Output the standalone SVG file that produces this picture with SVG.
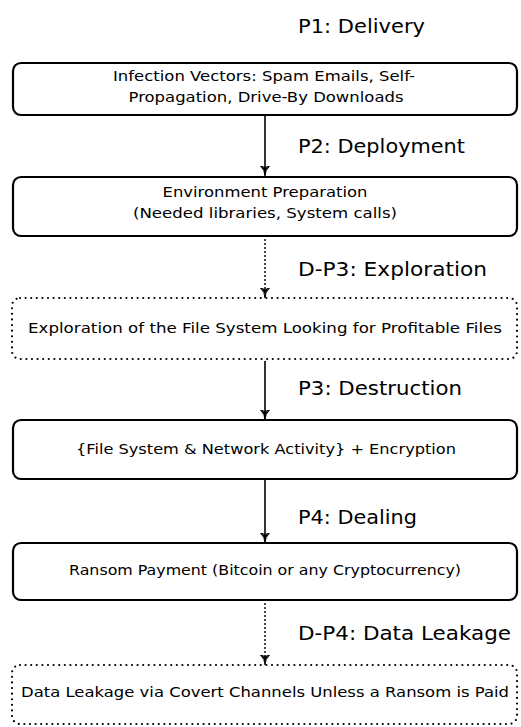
<svg xmlns="http://www.w3.org/2000/svg" width="521" height="727" viewBox="0 0 521 727">
<defs>
<style>
.box{fill:#fff;stroke:#000;stroke-width:2.2}
.dbox{fill:#fff;stroke:#000;stroke-width:2.2;stroke-dasharray:0 5.6;stroke-linecap:round}
.t{font-family:"DejaVu Sans","Liberation Sans",sans-serif;font-size:13.5px;fill:#000;text-anchor:middle}
.lab{font-family:"DejaVu Sans","Liberation Sans",sans-serif;font-size:19px;fill:#000}
.c{stroke:#000;stroke-width:1.6;fill:none}
.cd{stroke:#000;stroke-width:1.9;fill:none;stroke-dasharray:0 4;stroke-linecap:round}
</style>
<marker id="ah" viewBox="0 0 10 10" refX="9" refY="5" markerWidth="10" markerHeight="10" markerUnits="userSpaceOnUse" orient="auto">
<path d="M0,0.5 Q4,5 10,5 Q4,5 0,9.5 Q3,5 0,0.5 Z" fill="#000" stroke="#000" stroke-width="1"/>
</marker>
</defs>
<rect width="521" height="727" fill="#fff"/>
<g id="connectors">
<line class="c" x1="265" y1="116" x2="265" y2="175" marker-end="url(#ah)"/>
<line class="cd" x1="265" y1="240" x2="265" y2="297" marker-end="url(#ah)"/>
<line class="c" x1="265" y1="361" x2="265" y2="419" marker-end="url(#ah)"/>
<line class="c" x1="265" y1="480" x2="265" y2="542" marker-end="url(#ah)"/>
<line class="cd" x1="265" y1="604" x2="265" y2="664" marker-end="url(#ah)"/>
</g>
<g id="labels">
<text class="lab" x="298" y="33" textLength="127" lengthAdjust="spacingAndGlyphs">P1: Delivery</text>
<text class="lab" x="298" y="153" textLength="167" lengthAdjust="spacingAndGlyphs">P2: Deployment</text>
<text class="lab" x="298" y="276" textLength="189" lengthAdjust="spacingAndGlyphs">D-P3: Exploration</text>
<text class="lab" x="298" y="395" textLength="164" lengthAdjust="spacingAndGlyphs">P3: Destruction</text>
<text class="lab" x="298" y="524" textLength="119" lengthAdjust="spacingAndGlyphs">P4: Dealing</text>
<text class="lab" x="298" y="640" textLength="213" lengthAdjust="spacingAndGlyphs">D-P4: Data Leakage</text>
</g>
<g id="n1">
<rect class="box" x="13" y="63" width="504" height="52" rx="8"/>
<text class="t" x="264" y="81" textLength="302" lengthAdjust="spacingAndGlyphs">Infection Vectors: Spam Emails, Self-</text>
<text class="t" x="266" y="102" textLength="275" lengthAdjust="spacingAndGlyphs">Propagation, Drive-By Downloads</text>
</g>
<g id="n2">
<rect class="box" x="13" y="177" width="504" height="59" rx="8"/>
<text class="t" x="265" y="197" textLength="205" lengthAdjust="spacingAndGlyphs">Environment Preparation</text>
<text class="t" x="265" y="218" textLength="264" lengthAdjust="spacingAndGlyphs">(Needed libraries, System calls)</text>
</g>
<g id="n3">
<rect class="dbox" x="12" y="298" width="505" height="61" rx="8"/>
<text class="t" x="265" y="333" textLength="474" lengthAdjust="spacingAndGlyphs">Exploration of the File System Looking for Profitable Files</text>
</g>
<g id="n4">
<rect class="box" x="13" y="420" width="504" height="59" rx="8"/>
<text class="t" x="266" y="454" textLength="380" lengthAdjust="spacingAndGlyphs">{File System &amp; Network Activity} + Encryption</text>
</g>
<g id="n5">
<rect class="box" x="13" y="543" width="504" height="57" rx="8"/>
<text class="t" x="265" y="575" textLength="392" lengthAdjust="spacingAndGlyphs">Ransom Payment (Bitcoin or any Cryptocurrency)</text>
</g>
<g id="n6">
<rect class="dbox" x="12" y="665" width="505" height="59" rx="8"/>
<text class="t" x="265" y="697" textLength="488" lengthAdjust="spacingAndGlyphs">Data Leakage via Covert Channels Unless a Ransom is Paid</text>
</g>
</svg>
